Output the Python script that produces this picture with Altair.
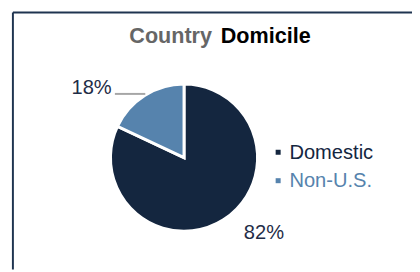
import altair as alt
import pandas as pd

# ---- data ----
categories = ["Domestic", "Non-U.S."]
shares = [82, 18]
share_labels = ["82%", "18%"]
title_words = ["Country", "Domicile"]

FONT = "Liberation Sans"
NAVY = "#14263F"
STEEL = "#5683AD"

df = pd.DataFrame({
    "category": categories,
    "share": shares,
    "label": share_labels,
    "order": list(range(len(categories))),
})

CX, CY, R = 179.5, 150, 75

color_scale = alt.Scale(domain=categories, range=[NAVY, STEEL])
theta_scale = alt.Scale(domain=[0, sum(shares)])

base = (
    alt.Chart(df)
    .transform_window(cum="sum(share)", sort=[alt.SortField("order")], frame=[None, 0])
    .transform_calculate(start="datum.cum - datum.share", mid="datum.cum - datum.share / 2")
)

pie = base.mark_arc(radius=R, stroke="white", strokeWidth=3).encode(
    theta=alt.Theta("start:Q", scale=theta_scale),
    theta2="cum:Q",
    color=alt.Color("category:N", scale=color_scale, legend=None),
    x=alt.value(CX),
    y=alt.value(CY),
)

lab_dom = base.transform_filter(alt.datum.category == categories[0]).mark_text(
    radius=98, dx=29, align="center", baseline="alphabetic",
    font=FONT, fontSize=20.5, color="#1F2D47",
).encode(
    theta=alt.Theta("mid:Q", scale=theta_scale),
    text="label:N",
    x=alt.value(CX),
    y=alt.value(CY),
)

lab_non = base.transform_filter(alt.datum.category == categories[1]).mark_text(
    radius=77, dx=-53, align="center", baseline="alphabetic",
    font=FONT, fontSize=20.5, color="#1F2D47",
).encode(
    theta=alt.Theta("mid:Q", scale=theta_scale),
    text="label:N",
    x=alt.value(CX),
    y=alt.value(CY),
)

one = pd.DataFrame({"k": [0]})

leader = alt.Chart(one).mark_rule(color="#A6A6A6", strokeWidth=2).encode(
    x=alt.value(109), x2=alt.value(140), y=alt.value(85)
)

# legend (manual, labels coloured like their series)
y_leg = alt.Scale(type="point", domain=categories, range=[144.5, 173.5], padding=0)
leg_sq = alt.Chart(df).mark_square(size=26, opacity=1).encode(
    x=alt.value(275.5),
    y=alt.Y("category:N", scale=y_leg, axis=None),
    color=alt.Color("category:N", scale=color_scale, legend=None),
)
leg_tx = alt.Chart(df).mark_text(
    align="left", baseline="alphabetic", dy=6.5, font=FONT, fontSize=20.5
).encode(
    x=alt.value(287),
    y=alt.Y("category:N", scale=y_leg, axis=None),
    text="category:N",
    color=alt.Color("category:N", scale=color_scale, legend=None),
)

# title in two colours
t1 = alt.Chart(pd.DataFrame({"t": [title_words[0]]})).mark_text(
    align="right", baseline="alphabetic", font=FONT, fontSize=22, fontWeight="bold", color="#666666"
).encode(x=alt.value(208), y=alt.value(32.7), text="t:N")
t2 = alt.Chart(pd.DataFrame({"t": [title_words[1]]})).mark_text(
    align="left", baseline="alphabetic", font=FONT, fontSize=22, fontWeight="bold", color="#000000"
).encode(x=alt.value(217), y=alt.value(32.7), text="t:N")

# frame (only top and left edges are inside the picture)
frame_top = alt.Chart(one).mark_rule(color="#1F3450", strokeWidth=2).encode(
    x=alt.value(5), x2=alt.value(412), y=alt.value(2)
)
frame_left = alt.Chart(one).mark_rule(color="#1F3450", strokeWidth=2).encode(
    x=alt.value(5), y=alt.value(2), y2=alt.value(264)
)

chart = alt.layer(
    frame_top, frame_left, pie, leader, lab_dom, lab_non, leg_sq, leg_tx, t1, t2
).properties(
    width=412, height=264,
    autosize=alt.AutoSizeParams(type="none"),
    padding=0,
).configure_view(stroke=None)

chart.save("out.html", embed_options={"renderer": "svg", "actions": False})
